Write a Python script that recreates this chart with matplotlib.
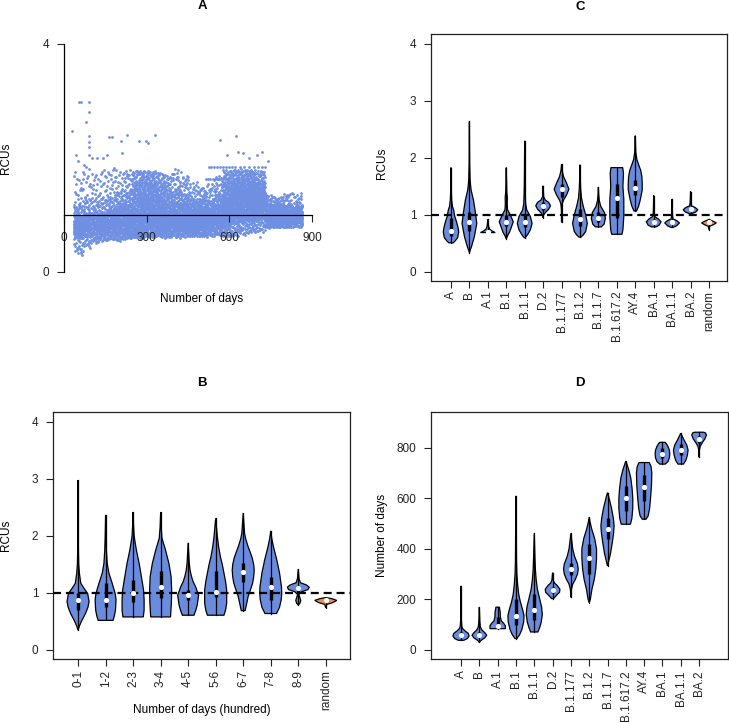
import numpy as np
import matplotlib
matplotlib.use("Agg")
import matplotlib.pyplot as plt

plt.rcParams['font.family'] = ['Liberation Sans', 'DejaVu Sans']

# ---------------- Panel A data (scatter, read as per-segment quantiles) -------------
seg_lo = [35, 65, 95, 125, 155, 185, 215, 245, 275, 305, 335, 365, 395, 425, 455,
          485, 515, 545, 575, 605, 635, 665, 695, 730, 760, 790, 820]
seg_hi = [65, 95, 125, 155, 185, 215, 245, 275, 305, 335, 365, 395, 425, 455, 485,
          515, 545, 575, 605, 635, 665, 695, 730, 760, 790, 820, 865]
seg_n = [150, 150, 130, 140, 150, 155, 170, 200, 215, 215, 200, 190, 190, 180, 175,
         180, 175, 175, 205, 225, 235, 240, 240, 175, 175, 175, 200]
seg_probs = [0.0, 0.1, 0.25, 0.5, 0.75, 0.9, 1.0]
seg_quant = [
    [0.32, 0.58, 0.70, 0.84, 0.98, 1.20, 1.75],
    [0.45, 0.62, 0.74, 0.87, 1.02, 1.30, 1.90],
    [0.50, 0.62, 0.74, 0.88, 1.04, 1.30, 1.75],
    [0.55, 0.64, 0.75, 0.89, 1.05, 1.30, 1.80],
    [0.55, 0.66, 0.77, 0.92, 1.10, 1.35, 1.85],
    [0.55, 0.67, 0.78, 0.95, 1.15, 1.40, 1.80],
    [0.58, 0.68, 0.80, 0.98, 1.20, 1.45, 1.80],
    [0.60, 0.70, 0.83, 1.05, 1.35, 1.58, 1.78],
    [0.60, 0.72, 0.87, 1.12, 1.40, 1.60, 1.78],
    [0.60, 0.72, 0.88, 1.12, 1.40, 1.58, 1.78],
    [0.62, 0.72, 0.85, 1.05, 1.30, 1.52, 1.75],
    [0.60, 0.70, 0.82, 1.00, 1.25, 1.48, 1.72],
    [0.60, 0.72, 0.83, 1.00, 1.22, 1.45, 1.80],
    [0.62, 0.72, 0.83, 0.98, 1.18, 1.38, 1.70],
    [0.62, 0.72, 0.82, 0.95, 1.10, 1.28, 1.60],
    [0.62, 0.72, 0.82, 0.96, 1.12, 1.28, 1.50],
    [0.62, 0.73, 0.83, 0.97, 1.12, 1.28, 1.55],
    [0.65, 0.74, 0.85, 1.00, 1.18, 1.38, 1.70],
    [0.62, 0.80, 0.95, 1.15, 1.38, 1.58, 1.80],
    [0.62, 0.85, 1.02, 1.25, 1.45, 1.62, 1.80],
    [0.65, 0.88, 1.05, 1.27, 1.46, 1.63, 1.80],
    [0.68, 0.90, 1.07, 1.27, 1.45, 1.62, 1.80],
    [0.70, 0.92, 1.08, 1.25, 1.42, 1.58, 1.78],
    [0.78, 0.84, 0.90, 0.98, 1.08, 1.20, 1.35],
    [0.78, 0.84, 0.90, 0.98, 1.08, 1.18, 1.32],
    [0.78, 0.85, 0.92, 1.00, 1.08, 1.18, 1.38],
    [0.78, 0.86, 0.92, 1.00, 1.08, 1.17, 1.40],
]
out_days = [30, 56, 63, 89, 91, 80, 165, 174, 228, 208, 271, 299, 305, 329, 566, 626,
            89, 89, 89, 89, 45, 50, 40, 155, 210, 140, 120, 100, 590, 630, 650, 670,
            700, 720, 740, 65, 60, 70, 95, 58, 600, 712]
out_rcu = [2.48, 2.98, 2.98, 2.98, 2.80, 2.64, 2.36, 2.36, 2.41, 2.30, 2.30, 2.30, 2.27,
           2.41, 2.31, 2.39, 2.38, 2.28, 2.20, 2.06, 2.05, 1.95, 1.75, 2.05, 2.08, 2.00,
           2.00, 2.00, 2.05, 2.10, 2.08, 2.00, 2.05, 2.10, 1.95, 0.30, 0.33, 0.36, 0.42,
           0.40, 0.65, 0.62]
row1_days = [526, 535, 545, 556, 566, 577, 588, 598, 609, 620, 640, 655, 672, 690, 705, 718, 728]
row1_rcu = 1.84
row2_days = [514, 522, 531, 540, 549, 558, 567, 576, 585, 594, 600]
row2_rcu = 1.64

# ---------------- Panel B data ----------------
b_labels = ["0-1", "1-2", "2-3", "3-4", "4-5", "5-6", "6-7", "7-8", "8-9", "random"]
b_prof_y = [
    [0.35, 0.42, 0.50, 0.64, 0.75, 0.85, 0.99, 1.08, 1.17, 1.34, 1.5, 1.7, 2.0, 2.98],
    [0.52, 0.6, 0.70, 0.88, 0.99, 1.17, 1.35, 1.52, 1.75, 1.99, 2.37],
    [0.58, 0.70, 0.88, 1.05, 1.29, 1.52, 1.75, 1.99, 2.2, 2.42],
    [0.58, 0.82, 1.05, 1.29, 1.52, 1.75, 1.96, 2.15, 2.42],
    [0.61, 0.70, 0.79, 0.96, 1.11, 1.20, 1.29, 1.4, 1.52, 1.88],
    [0.61, 0.70, 0.82, 1.05, 1.20, 1.35, 1.50, 1.64, 1.80, 1.99, 2.31],
    [0.69, 0.80, 0.94, 1.05, 1.17, 1.28, 1.40, 1.50, 1.61, 1.72, 1.81, 1.95, 2.05, 2.40],
    [0.64, 0.75, 0.88, 1.0, 1.11, 1.35, 1.58, 1.81, 1.95, 2.09],
    [0.79, 0.82, 0.87, 0.92, 0.97, 1.02, 1.06, 1.10, 1.14, 1.18, 1.25, 1.42],
    [0.74, 0.80, 0.83, 0.87, 0.90, 0.92],
]
b_prof_w = [
    [0, 0.05, 0.12, 0.27, 0.36, 0.40, 0.35, 0.22, 0.10, 0.05, 0.025, 0.015, 0.008, 0],
    [0.27, 0.32, 0.36, 0.38, 0.35, 0.24, 0.12, 0.06, 0.03, 0.015, 0],
    [0.37, 0.40, 0.40, 0.38, 0.30, 0.22, 0.12, 0.04, 0.015, 0],
    [0.36, 0.39, 0.40, 0.38, 0.30, 0.18, 0.05, 0.02, 0],
    [0.21, 0.28, 0.33, 0.38, 0.27, 0.18, 0.12, 0.07, 0.04, 0],
    [0.30, 0.36, 0.40, 0.40, 0.36, 0.30, 0.24, 0.17, 0.11, 0.06, 0],
    [0.07, 0.12, 0.18, 0.26, 0.34, 0.38, 0.40, 0.38, 0.33, 0.25, 0.18, 0.09, 0.05, 0],
    [0.21, 0.32, 0.38, 0.40, 0.39, 0.32, 0.22, 0.10, 0.04, 0],
    [0, 0.06, 0.09, 0.06, 0.02, 0.12, 0.35, 0.40, 0.30, 0.08, 0.03, 0],
    [0, 0.04, 0.25, 0.40, 0.22, 0],
]
b_q1 = [0.70, 0.75, 0.85, 0.92, 0.88, 0.93, 1.20, 0.88, 1.00, 0.85]
b_med = [0.88, 0.88, 1.00, 1.11, 0.96, 1.02, 1.37, 1.10, 1.08, 0.87]
b_q3 = [1.00, 1.18, 1.22, 1.38, 1.05, 1.38, 1.52, 1.28, 1.12, 0.89]

# ---------------- Panel C data ----------------
c_labels = ["A", "B", "A.1", "B.1", "B.1.1", "D.2", "B.1.177", "B.1.2", "B.1.1.7",
            "B.1.617.2", "AY.4", "BA.1", "BA.1.1", "BA.2", "random"]
c_prof_y = [
    [0.51, 0.54, 0.60, 0.70, 0.78, 0.88, 0.98, 1.08, 1.15, 1.25, 1.4, 1.6, 1.83],
    [0.34, 0.44, 0.62, 0.85, 1.03, 1.26, 1.44, 1.6, 1.9, 2.64],
    [0.69, 0.72, 0.75, 0.80, 0.86, 0.92],
    [0.58, 0.64, 0.70, 0.76, 0.88, 1.0, 1.09, 1.2, 1.3, 1.4, 1.6, 1.83],
    [0.60, 0.65, 0.74, 0.85, 0.97, 1.09, 1.2, 1.4, 1.6, 2.3],
    [0.95, 1.0, 1.04, 1.10, 1.16, 1.22, 1.26, 1.32, 1.51],
    [0.87, 1.1, 1.2, 1.26, 1.35, 1.45, 1.56, 1.67, 1.78, 1.89],
    [0.61, 0.65, 0.71, 0.85, 1.0, 1.15, 1.3, 1.45, 1.6, 1.88],
    [0.79, 0.84, 0.94, 1.04, 1.10, 1.15, 1.25, 1.35, 1.49],
    [0.66, 0.74, 0.98, 1.27, 1.50, 1.73, 1.83],
    [1.07, 1.15, 1.26, 1.44, 1.56, 1.67, 1.78, 1.85, 1.97, 2.1, 2.39],
    [0.79, 0.82, 0.88, 0.93, 0.97, 1.05, 1.34],
    [0.78, 0.81, 0.86, 0.90, 0.93, 1.0, 1.28],
    [1.02, 1.05, 1.09, 1.13, 1.16, 1.22, 1.41],
    [0.74, 0.80, 0.83, 0.86, 0.89, 0.92],
]
c_prof_w = [
    [0.12, 0.22, 0.36, 0.42, 0.38, 0.30, 0.20, 0.15, 0.08, 0.04, 0.02, 0.01, 0],
    [0, 0.11, 0.27, 0.40, 0.33, 0.22, 0.09, 0.04, 0.015, 0],
    [0.40, 0.22, 0.10, 0.04, 0.02, 0],
    [0, 0.08, 0.18, 0.25, 0.38, 0.22, 0.07, 0.05, 0.06, 0.03, 0.015, 0],
    [0.03, 0.15, 0.31, 0.40, 0.31, 0.11, 0.05, 0.03, 0.02, 0],
    [0, 0.03, 0.12, 0.30, 0.40, 0.30, 0.12, 0.03, 0],
    [0, 0.01, 0.04, 0.11, 0.27, 0.40, 0.27, 0.11, 0.03, 0],
    [0.05, 0.18, 0.31, 0.40, 0.31, 0.18, 0.08, 0.04, 0.02, 0],
    [0.16, 0.31, 0.38, 0.33, 0.22, 0.13, 0.05, 0.02, 0],
    [0.28, 0.33, 0.38, 0.38, 0.33, 0.36, 0.32],
    [0.07, 0.18, 0.27, 0.38, 0.38, 0.36, 0.30, 0.22, 0.09, 0.03, 0],
    [0.12, 0.30, 0.40, 0.25, 0.06, 0.02, 0],
    [0.05, 0.25, 0.40, 0.25, 0.05, 0.02, 0],
    [0.04, 0.28, 0.40, 0.25, 0.05, 0.02, 0],
    [0, 0.04, 0.25, 0.40, 0.22, 0],
]
c_q1 = [0.63, 0.72, 0.70, 0.80, 0.78, 1.08, 1.32, 0.80, 0.88, 0.95, 1.35, 0.85, 0.84, 1.06, 0.85]
c_med = [0.72, 0.87, 0.70, 0.88, 0.88, 1.16, 1.45, 0.92, 0.95, 1.30, 1.47, 0.88, 0.87, 1.10, 0.87]
c_q3 = [0.95, 1.05, 0.72, 1.00, 1.00, 1.22, 1.55, 1.10, 1.05, 1.55, 1.62, 0.92, 0.90, 1.13, 0.89]

# ---------------- Panel D data ----------------
d_labels = ["A", "B", "A.1", "B.1", "B.1.1", "D.2", "B.1.177", "B.1.2", "B.1.1.7",
            "B.1.617.2", "AY.4", "BA.1", "BA.1.1", "BA.2"]
d_prof_y = [
    [38, 45, 55, 65, 75, 85, 95, 120, 253],
    [30, 38, 48, 58, 68, 78, 90, 110, 169],
    [84, 95, 105, 115, 130, 150, 165, 169],
    [45, 60, 80, 110, 135, 160, 190, 220, 260, 300, 350, 450, 609],
    [71, 90, 110, 140, 170, 200, 240, 280, 320, 360, 461],
    [203, 215, 228, 240, 255, 265, 275, 306],
    [208, 240, 260, 280, 300, 320, 340, 370, 400, 430, 461],
    [187, 200, 240, 280, 320, 360, 400, 440, 480, 505, 525],
    [332, 350, 380, 420, 460, 490, 520, 560, 590, 610, 622],
    [497, 520, 560, 600, 640, 680, 710, 730, 747],
    [517, 530, 560, 600, 650, 700, 725, 741],
    [735, 745, 760, 775, 790, 805, 815, 821],
    [735, 750, 770, 790, 810, 830, 845, 857],
    [762, 790, 805, 820, 835, 850, 858, 861],
]
d_prof_w = [
    [0.15, 0.35, 0.44, 0.40, 0.22, 0.08, 0.04, 0.02, 0],
    [0, 0.10, 0.30, 0.40, 0.30, 0.15, 0.06, 0.03, 0],
    [0.42, 0.42, 0.33, 0.20, 0.15, 0.14, 0.10, 0.10],
    [0.05, 0.20, 0.32, 0.42, 0.44, 0.36, 0.24, 0.15, 0.09, 0.05, 0.03, 0.02, 0],
    [0.20, 0.30, 0.38, 0.44, 0.40, 0.30, 0.17, 0.10, 0.06, 0.04, 0],
    [0.05, 0.20, 0.38, 0.40, 0.25, 0.10, 0.04, 0],
    [0, 0.03, 0.10, 0.25, 0.36, 0.40, 0.36, 0.20, 0.10, 0.05, 0],
    [0, 0.06, 0.15, 0.28, 0.36, 0.40, 0.40, 0.30, 0.13, 0.05, 0],
    [0, 0.06, 0.16, 0.25, 0.33, 0.36, 0.32, 0.22, 0.12, 0.05, 0],
    [0.25, 0.33, 0.38, 0.38, 0.34, 0.27, 0.17, 0.08, 0],
    [0.10, 0.22, 0.30, 0.35, 0.40, 0.42, 0.38, 0.28],
    [0.15, 0.30, 0.38, 0.40, 0.38, 0.30, 0.22, 0.15],
    [0.15, 0.28, 0.36, 0.40, 0.33, 0.18, 0.08, 0],
    [0, 0.02, 0.06, 0.18, 0.32, 0.40, 0.35, 0.25],
]
d_q1 = [50, 50, 92, 100, 120, 225, 295, 300, 440, 550, 590, 760, 770, 820]
d_med = [60, 60, 96, 135, 158, 236, 320, 362, 480, 600, 645, 775, 790, 835]
d_q3 = [72, 70, 130, 200, 220, 250, 345, 420, 520, 650, 690, 800, 815, 848]

# ---------------- drawing ----------------
W, H = 729, 723
fig = plt.figure(figsize=(W / 100, H / 100), dpi=100)

BLUE = '#6A8CDF'
ORANGE = '#F4874F'
PT = '#6E8FE2'
FS = 8.5
TFS = 9.5


def add_ax(l, t, r, b):
    return fig.add_axes([l / W, 1 - b / H, (r - l) / W, (b - t) / H])


def radical_inverse(idx, base):
    out = np.zeros(len(idx))
    for j, v in enumerate(idx):
        f, r, v = 1.0, 0.0, int(v)
        while v > 0:
            f /= base
            r += f * (v % base)
            v //= base
        out[j] = r
    return out


def violin(ax, x, ys, ws, q1, med, q3, color):
    ys = np.asarray(ys, float)
    ws = np.asarray(ws, float)
    px = np.concatenate([x - ws, (x + ws)[::-1]])
    py = np.concatenate([ys, ys[::-1]])
    ax.fill(px, py, facecolor=color, edgecolor='black', lw=0.9, zorder=2)
    ax.plot([x, x], [ys[0], ys[-1]], color='black', lw=0.9, zorder=2.1)
    ax.plot([x, x], [q1, q3], color='black', lw=2.4, solid_capstyle='butt', zorder=2.2)
    ax.scatter([x], [med], s=14, color='white', zorder=4, linewidths=0)


def boxed(ax):
    for s in ax.spines.values():
        s.set_color('#222222')
        s.set_linewidth(0.9)
    ax.tick_params(length=5, width=0.8, labelsize=FS, direction='out', pad=5.5,
                   colors='#222222')


# Panel A
axA = add_ax(64, 44, 312, 272)
xs, ys = [], []
start = 1
for lo, hi, n, q in zip(seg_lo, seg_hi, seg_n, seg_quant):
    idx = np.arange(start, start + n)
    start += n
    fx = radical_inverse(idx, 2)
    fp = radical_inverse(idx, 3)
    xs.append(lo + fx * (hi - lo))
    ys.append(np.interp(fp, seg_probs, q))
xs.append(np.asarray(out_days, float))
ys.append(np.asarray(out_rcu, float))
xs.append(np.asarray(row1_days, float))
ys.append(np.full(len(row1_days), row1_rcu))
xs.append(np.asarray(row2_days, float))
ys.append(np.full(len(row2_days), row2_rcu))
axA.scatter(np.concatenate(xs), np.concatenate(ys), s=4, color=PT, linewidths=0, zorder=1)
axA.set_xlim(0, 900)
axA.set_ylim(0, 4)
axA.spines['top'].set_visible(False)
axA.spines['right'].set_visible(False)
axA.spines['bottom'].set_position(('data', 1))
axA.spines['bottom'].set_bounds(0, 900)
axA.spines['left'].set_bounds(0, 4)
for s in ('bottom', 'left'):
    axA.spines[s].set_linewidth(0.9)
axA.set_xticks([0, 300, 600, 900])
axA.set_yticks([0, 4])
axA.tick_params(axis='both', length=5, width=0.8, labelsize=FS, colors='#222222')
axA.tick_params(axis='x', pad=7)
axA.tick_params(axis='y', pad=5.5)
fig.text(202 / W, 1 - 6 / H, 'A', ha='center', va='center', fontsize=TFS, fontweight='bold')
fig.text(202 / W, 1 - 299 / H, 'Number of days', ha='center', va='center', fontsize=FS)
fig.text(6 / W, 1 - 158 / H, 'RCUs', ha='center', va='center', rotation=90, fontsize=FS)

# Panel C
axC = add_ax(431, 34, 727, 281)
for k in range(len(c_labels)):
    col = ORANGE if c_labels[k] == 'random' else BLUE
    violin(axC, k + 1, c_prof_y[k], c_prof_w[k], c_q1[k], c_med[k], c_q3[k], col)
axC.axhline(1, color='black', lw=1.6, dashes=(3.6, 2.2), zorder=3)
axC.set_xlim(-0.085, 15.98)
axC.set_ylim(-0.16, 4.175)
axC.set_yticks([0, 1, 2, 3, 4])
axC.set_xticks(range(1, len(c_labels) + 1))
axC.set_xticklabels(c_labels, rotation=90)
boxed(axC)
axC.tick_params(axis='x', pad=2)
fig.text(580 / W, 1 - 7 / H, 'C', ha='center', va='center', fontsize=TFS, fontweight='bold')
fig.text(382 / W, 1 - 163 / H, 'RCUs', ha='center', va='center', rotation=90, fontsize=FS)

# Panel B
axB = add_ax(53, 412, 350, 659)
for k in range(len(b_labels)):
    col = ORANGE if b_labels[k] == 'random' else BLUE
    violin(axB, k + 1, b_prof_y[k], b_prof_w[k], b_q1[k], b_med[k], b_q3[k], col)
axB.axhline(1, color='black', lw=1.6, dashes=(3.6, 2.2), zorder=3)
axB.set_xlim(0.09, 10.88)
axB.set_ylim(-0.158, 4.175)
axB.set_yticks([0, 1, 2, 3, 4])
axB.set_xticks(range(1, len(b_labels) + 1))
axB.set_xticklabels(b_labels, rotation=90)
boxed(axB)
axB.tick_params(axis='x', pad=3)
fig.text(202 / W, 1 - 383 / H, 'B', ha='center', va='center', fontsize=TFS, fontweight='bold')
fig.text(202 / W, 1 - 710 / H, 'Number of days (hundred)', ha='center', va='center', fontsize=FS)
fig.text(6 / W, 1 - 535 / H, 'RCUs', ha='center', va='center', rotation=90, fontsize=FS)

# Panel D
axD = add_ax(431, 412, 728, 659)
for k in range(len(d_labels)):
    violin(axD, k + 1, d_prof_y[k], d_prof_w[k], d_q1[k], d_med[k], d_q3[k], BLUE)
axD.set_xlim(-0.64, 15.58)
axD.set_ylim(-36, 941)
axD.set_yticks([0, 200, 400, 600, 800])
axD.set_xticks(range(1, len(d_labels) + 1))
axD.set_xticklabels(d_labels, rotation=90)
boxed(axD)
axD.tick_params(axis='x', pad=3)
fig.text(580 / W, 1 - 383 / H, 'D', ha='center', va='center', fontsize=TFS, fontweight='bold')
fig.text(382 / W, 1 - 535 / H, 'Number of days', ha='center', va='center', rotation=90, fontsize=FS)

fig.savefig('out.png', dpi=100)
